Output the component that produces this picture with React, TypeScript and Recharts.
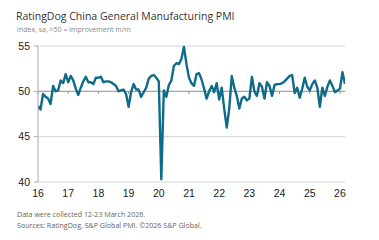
import React from 'react';
import { LineChart, Line, XAxis, YAxis, CartesianGrid, ReferenceLine } from 'recharts';

const title = 'RatingDog China General Manufacturing PMI';
const subtitle = 'Index, sa, >50 = improvement m/m';
const note1 = 'Data were collected 12-23 March 2026.';
const note2 = 'Sources: RatingDog, S&P Global PMI. ©2026 S&P Global.';

const startYear = 16;
const y2016 = [48.4, 48.0, 49.7, 49.4, 49.2, 48.6, 50.6, 50.0, 50.1, 51.2, 50.9, 51.9];
const y2017 = [51.0, 51.7, 51.2, 50.3, 49.6, 50.4, 51.1, 51.6, 51.0, 51.0, 50.8, 51.5];
const y2018 = [51.5, 51.6, 51.0, 51.1, 51.1, 51.0, 50.8, 50.6, 50.0, 50.1, 50.2, 49.7];
const y2019 = [48.3, 49.9, 50.8, 50.2, 50.2, 49.4, 49.9, 50.4, 51.4, 51.7, 51.8, 51.5];
const y2020 = [51.1, 40.3, 50.1, 49.4, 50.7, 51.2, 52.8, 53.1, 53.0, 53.6, 54.9, 53.0];
const y2021 = [51.5, 50.9, 50.6, 51.9, 52.0, 51.3, 50.3, 49.2, 50.0, 50.6, 49.9, 50.9];
const y2022 = [49.1, 50.4, 48.1, 46.0, 48.1, 51.7, 50.4, 49.5, 48.1, 49.2, 49.4, 49.0];
const y2023 = [49.2, 51.6, 50.0, 49.5, 50.9, 50.5, 49.2, 51.0, 50.6, 49.5, 50.7, 50.8];
const y2024 = [50.8, 50.9, 51.1, 51.4, 51.7, 51.8, 49.8, 50.4, 49.3, 50.3, 51.5, 50.5];
const y2025 = [50.1, 50.8, 51.2, 50.4, 48.3, 50.4, 49.5, 50.5, 51.2, 50.6, 49.9, 50.1];
const y2026 = [50.3, 52.1, 50.8];

const yearly = [y2016, y2017, y2018, y2019, y2020, y2021, y2022, y2023, y2024, y2025, y2026];
const xTicks = [16, 17, 18, 19, 20, 21, 22, 23, 24, 25, 26];
const yTicks = [40, 45, 50, 55];

const data = yearly.flatMap((arr, yi) =>
  arr.map((v, m) => ({ t: startYear + yi + m / 12, pmi: v }))
);
const xMax = data[data.length - 1].t;

const lineColor = '#0f6b87';

export default function App() {
  return (
    <div style={{ position: 'absolute', left: 0, top: 0, width: 379, height: 240, background: '#fff', overflow: 'hidden' }}>
      <div style={{ position: 'absolute', left: 16, top: 9, fontFamily: '"Open Sans", sans-serif', fontSize: 10.5, color: '#333', whiteSpace: 'nowrap', lineHeight: '14px' }}>{title}</div>
      <div style={{ position: 'absolute', left: 17, top: 25, fontFamily: '"Open Sans", sans-serif', fontSize: 7, color: '#888', whiteSpace: 'nowrap', lineHeight: '10px' }}>{subtitle}</div>
      <div style={{ position: 'absolute', left: 0, top: 0 }}>
        <LineChart width={379} height={240} data={data} margin={{ top: 46, right: 34, bottom: 38, left: 0 }}>
          <CartesianGrid vertical={false} stroke="#d4d4d4" strokeWidth={1} />
          <XAxis
            dataKey="t"
            type="number"
            domain={[16, xMax]}
            ticks={xTicks}
            allowDataOverflow
            axisLine={false}
            tickLine={false}
            height={20}
            interval={0}
            tick={{ fontSize: 10.5, fill: '#1a1a1a', fontFamily: '"Liberation Sans", Arial, sans-serif' }}
          />
          <YAxis
            domain={[40, 55]}
            ticks={yTicks}
            width={38}
            axisLine={{ stroke: '#aaa' }}
            tickLine={{ stroke: '#aaa' }}
            tickSize={4}
            tickMargin={4}
            tick={{ fontSize: 10.5, fill: '#1a1a1a', fontFamily: '"Liberation Sans", Arial, sans-serif' }}
          />
          <ReferenceLine y={50} stroke="#999" strokeWidth={1} />
          {xTicks.map((t) => (
            <ReferenceLine key={t} segment={[{ x: t, y: 50 }, { x: t, y: 49.72 }]} stroke="#888" strokeWidth={1} />
          ))}
          <Line type="linear" dataKey="pmi" stroke={lineColor} strokeWidth={2.4} dot={false} isAnimationActive={false} strokeLinejoin="round" />
        </LineChart>
      </div>
      <div style={{ position: 'absolute', left: 17, top: 209, fontFamily: '"Open Sans", sans-serif', fontSize: 7.1, color: '#666', whiteSpace: 'nowrap', lineHeight: '10px' }}>{note1}</div>
      <div style={{ position: 'absolute', left: 17, top: 220, fontFamily: '"Open Sans", sans-serif', fontSize: 7.1, color: '#666', whiteSpace: 'nowrap', lineHeight: '10px' }}>{note2}</div>
    </div>
  );
}
